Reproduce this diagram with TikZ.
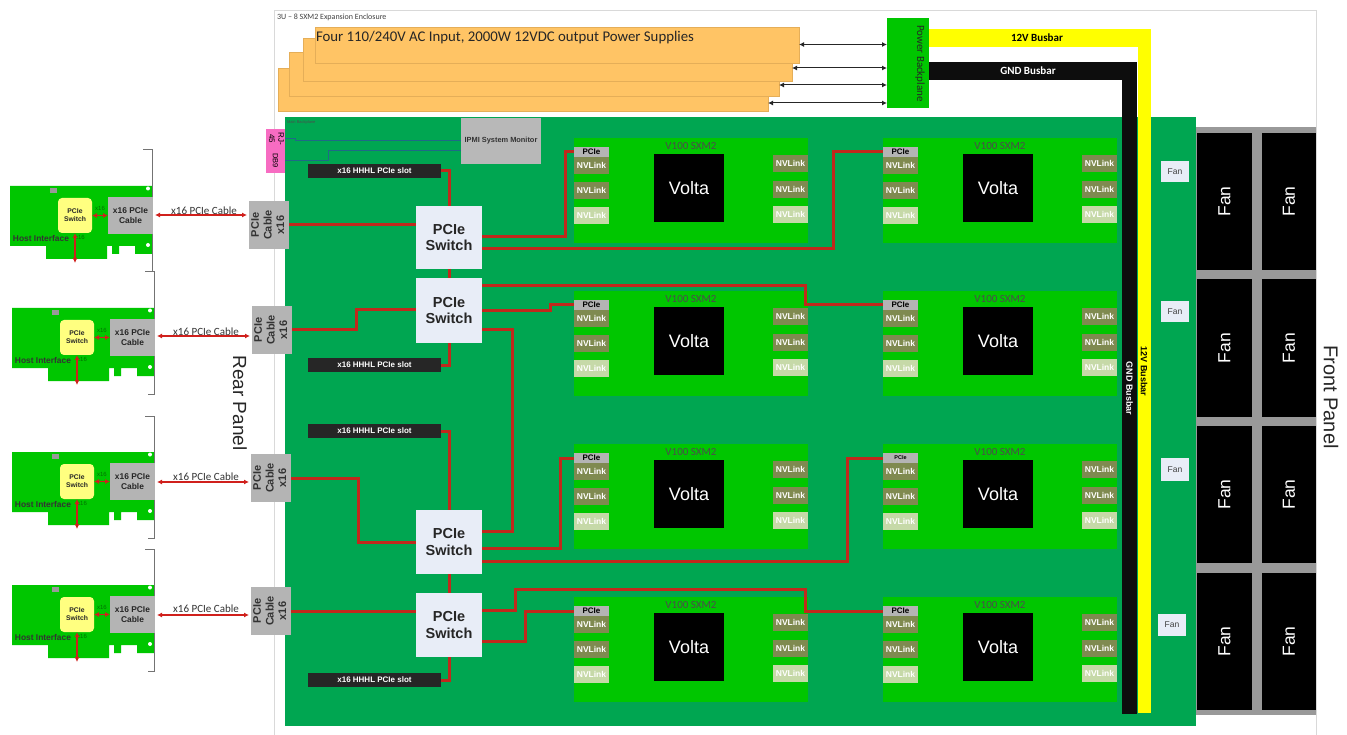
\documentclass[tikz,border=0pt]{standalone}
\usepackage{fontspec}
\usepackage{graphicx}
\setmainfont{Liberation Sans}
\newfontfamily\cb{Carlito}
\usetikzlibrary{arrows.meta,calc}
\definecolor{mainG}{HTML}{00A651}
\definecolor{brightG}{HTML}{00C600}
\definecolor{psuO}{HTML}{FFC465}
\definecolor{psuE}{HTML}{E5AE58}
\definecolor{wireR}{HTML}{C0291C}
\definecolor{arrR}{HTML}{D0201C}
\definecolor{swB}{HTML}{E8EDF7}
\definecolor{olive}{HTML}{7F8A50}
\definecolor{pale}{HTML}{C6D9A8}
\definecolor{slotK}{HTML}{262626}
\definecolor{cableG}{HTML}{B4B4B4}
\definecolor{pinkB}{HTML}{F76CC2}
\definecolor{tealB}{HTML}{1F6A86}
\definecolor{busY}{HTML}{FFFF00}
\definecolor{cardY}{HTML}{FFFF80}
\newcommand\fz[1]{\fontsize{#1}{\dimexpr #1pt*115/100\relax}\selectfont}
\newcommand\rot[2]{\rotatebox{#1}{\begin{tabular}{@{}c@{}}#2\end{tabular}}}
\newcommand\rect[7]{%
  \pgfmathsetmacro\rw{abs((#5)-(#3))}\pgfmathsetmacro\rh{abs((#6)-(#4))}%
  \pgfmathsetmacro\rcx{((#3)+(#5))/2}\pgfmathsetmacro\rcy{((#4)+(#6))/2}%
  \node[base,#2,minimum width=\rw pt,minimum height=\rh pt] (#1) at (\rcx,\rcy) {#7};}
\tikzset{
  x=1pt,y=-1pt,
  base/.style={inner sep=0pt,outer sep=0pt,align=center,text=black},
  psu/.style={fill=psuO,draw=psuE,line width=.5pt},
  board/.style={fill=brightG},
  volta/.style={fill=black,text=white,font=\fz{18}},
  nvdark/.style={fill=olive,text=white,font=\bfseries\fz{8.5}},
  nvpale/.style={fill=pale,text=white,font=\bfseries\fz{8.5}},
  pcieport/.style={fill=cableG},
  switchbox/.style={fill=swB,text=black!85,font=\bfseries\fz{14.5}},
  slotbox/.style={fill=slotK,text=white,font=\bfseries\fz{8}},
  cablebox/.style={fill=cableG,text=black!80,font=\bfseries\fz{11}},
  fanbig/.style={fill=black,text=white,font=\fz{17.5}},
  fansmall/.style={fill=swB,text=black!75,font=\fz{8.5}},
  wire/.style={draw=wireR,line width=3pt,line join=miter},
  redarr/.style={draw=arrR,line width=1.6pt,{Latex[length=5pt,width=5pt]}-{Latex[length=5pt,width=5pt]}},
  blkarr/.style={draw=black!85,line width=1pt,{Latex[length=5pt,width=5pt]}-{Latex[length=5pt,width=5pt]}},
  bluewire/.style={draw=tealB,line width=1pt},
  frame/.style={draw=black!15,line width=.8pt},
  cardgreen/.style={fill=brightG,draw=none},
  bracket/.style={draw=black!55,line width=1pt},
  lab/.style={inner sep=0pt,outer sep=0pt,align=center},
}
\begin{document}
\begin{tikzpicture}
\useasboundingbox (0,0) rectangle (1347,735);
\fill[white] (0,0) rectangle (1347,735);
% enclosure frame
\draw[frame] (274,735) -- (274,10) -- (1316,10) -- (1316,735);
\node[lab,font=\cb\fz{8},text=black!75,anchor=west] (enc) at (277,17.5) {3U – 8 SXM2 Expansion Enclosure};
% power supplies
\rect{psu4}{psu}{278}{68}{768}{111}{}
\rect{psu3}{psu}{289}{52}{779}{96}{}
\rect{psu2}{psu}{303}{38}{792}{81}{}
\rect{psu1}{psu}{315}{27}{799}{63}{}
\node[lab,font=\cb\fz{14.8},text=black!85,anchor=west] (psut) at (316,38) {Four 110/240V AC Input, 2000W 12VDC output Power Supplies};
% main board
\rect{main}{fill=mainG}{285}{117}{1196}{726}{}
\node[lab,font=\fz{4},text=black!70,anchor=west] (mbt) at (287,122) {Main Backplane};
% busbars
\rect{bpl}{fill=brightG}{887}{18}{929}{108}{}
\rect{v12}{fill=busY}{929}{29}{1138}{47}{\cb\bfseries\fz{11}\hspace*{7pt}12V Busbar}
\rect{v12b}{fill=busY}{1138}{29}{1151}{713}{}
\rect{gnd}{fill=black!95}{929}{62}{1137}{80}{\cb\bfseries\fz{11}\textcolor{white}{GND Busbar\hspace*{10pt}}}
\rect{gndb}{fill=black!95}{1122}{62}{1137}{714}{}
\node[lab,text=black!85,font=\cb\fz{11}] (bplt) at (920,63.5) {\rotatebox{-90}{Power Backplane}};
\node[lab,text=black,font=\bfseries\fz{9}] (v12t) at (1144,371.5) {\rotatebox{-90}{12V Busbar}};
\node[lab,text=white,font=\bfseries\fz{9}] (gndt) at (1129.5,388.5) {\rotatebox{-90}{GND Busbar}};
% PSU to backplane
\foreach \p/\yy in {psu1/44.5,psu2/68,psu3/85,psu4/103}
  \draw[blkarr] (\p.east |- 0,\yy) -- (bpl.west |- 0,\yy);
% fans
\rect{fanback}{fill=black!40}{1196}{127}{1316}{715}{}
\foreach \r/\ya/\yb in {1/133/270,2/279/417,3/426/563,4/573/710}{
  \rect{fa\r}{fanbig}{1197}{\ya}{1252}{\yb}{\rotatebox{90}{Fan}}
  \rect{fb\r}{fanbig}{1262}{\ya}{1316}{\yb}{\rotatebox{90}{Fan}}
}
\rect{sf1}{fansmall}{1161}{161}{1189}{182}{Fan}
\rect{sf2}{fansmall}{1161}{301}{1189}{322}{Fan}
\rect{sf3}{fansmall}{1161}{458}{1189}{481}{Fan}
\rect{sf4}{fansmall}{1158}{614}{1186}{636}{Fan}
% SXM boards
\foreach \r/\dy in {1/0,2/153,3/306,4/459}{
 \foreach \c/\dx in {1/0,2/309}{
  \ifnum\r\c=32 \def\pf{5.5}\else\def\pf{8}\fi
  \rect{b\r\c}{board}{574+\dx}{138+\dy}{808+\dx}{243+\dy}{}
  \node[lab,font=\cb\fz{11},text=black!70] (t\r\c) at (691+\dx,146+\dy) {V100 SXM2};
  \rect{v\r\c}{volta}{654+\dx}{154+\dy}{724+\dx}{222+\dy}{Volta}
  \rect{p\r\c}{pcieport,font=\bfseries\fz{\pf}}{574+\dx}{147+\dy}{609+\dx}{157+\dy}{PCIe}
  \rect{nl1\r\c}{nvdark}{574+\dx}{157+\dy}{609+\dx}{174+\dy}{NVLink}
  \rect{nl2\r\c}{nvdark}{574+\dx}{182+\dy}{609+\dx}{199+\dy}{NVLink}
  \rect{nl3\r\c}{nvpale}{574+\dx}{207+\dy}{609+\dx}{224+\dy}{NVLink}
  \rect{nr1\r\c}{nvdark}{773+\dx}{155+\dy}{808+\dx}{172+\dy}{NVLink}
  \rect{nr2\r\c}{nvdark}{773+\dx}{181+\dy}{808+\dx}{198+\dy}{NVLink}
  \rect{nr3\r\c}{nvpale}{773+\dx}{206+\dy}{808+\dx}{223+\dy}{NVLink}
 }
}
% pcie switches, slots, cables
\rect{sw1}{switchbox}{416}{206}{482}{269}{PCIe\\Switch}
\rect{sw2}{switchbox}{416}{278}{482}{343}{PCIe\\Switch}
\rect{sw3}{switchbox}{416}{510}{482}{574}{PCIe\\Switch}
\rect{sw4}{switchbox}{416}{593}{482}{657}{PCIe\\Switch}
\rect{sl1}{slotbox}{308}{164}{441}{178}{x16 HHHL PCIe slot}
\rect{sl2}{slotbox}{308}{358}{441}{372}{x16 HHHL PCIe slot}
\rect{sl3}{slotbox}{308}{424}{441}{438}{x16 HHHL PCIe slot}
\rect{sl4}{slotbox}{308}{673}{441}{687}{x16 HHHL PCIe slot}
\rect{cab1}{cablebox}{249}{201}{289}{249}{\rot{90}{PCIe\\Cable\\x16}}
\rect{cab2}{cablebox}{252}{306}{292}{354}{\rot{90}{PCIe\\Cable\\x16}}
\rect{cab3}{cablebox}{251}{454}{291}{502}{\rot{90}{PCIe\\Cable\\x16}}
\rect{cab4}{cablebox}{251}{587}{291}{635}{\rot{90}{PCIe\\Cable\\x16}}
% IPMI and connectors
\rect{ipmi}{fill=black!28,font=\bfseries\fz{7.4},text=black!80}{461}{118}{541}{164}{IPMI System Monitor}
\rect{rj}{fill=pinkB,font=\fz{8}}{266}{129}{285}{148}{\rot{-90}{RJ-\\45}}
\rect{db}{fill=pinkB,font=\fz{7.5}}{266}{148}{285}{173}{\rotatebox{-90}{DB9}}
\draw[bluewire] (rj.east) -- (295,138.5) -- (295,141) -- (ipmi.west |- 0,141);
\draw[bluewire] (db.east) -- (328,160.5) -- (328,151) -- (ipmi.west |- 0,151);
% wires
\draw[wire] (cab1.east) -- (sw1.west |- cab1.east);
\draw[wire] (sl1.east) -| (sw1.north);
\draw[wire] (sw1.east |- 0,237) -- (565,237) |- (p11.west);
\draw[wire] (sw1.east |- 0,249) -- (833,249) |- (p12.west);
\draw[wire] (sw1.south) -- (sw2.north);
\draw[wire] (cab2.east) -- (cab2.east -| 356,0) -- (356,310) -- (sw2.west |- 0,310);
\draw[wire] (sw2.east |- 0,286) -- (805,286) |- (p22.west);
\draw[wire] (sw2.east |- 0,311) -- (550,311) |- (p21.west);
\draw[wire] (sw2.east |- 0,330) -- (512,330) -- (512,531) -- (sw3.east |- 0,531);
\draw[wire] (sl2.east) -| (sw2.south);
\draw[wire] (cab3.east) -- (cab3.east -| 358,0) -- (358,542) -- (sw3.west |- 0,542);
\draw[wire] (sl3.east) -| (sw3.north);
\draw[wire] (sw3.east |- 0,548) -- (560,548) |- (p31.west);
\draw[wire] (sw3.east |- 0,561) -- (847,561) |- (p32.west);
\draw[wire] (sw3.south) -- (sw4.north);
\draw[wire] (cab4.east) -- (sw4.west |- cab4.east);
\draw[wire] (sw4.east |- 0,610) -- (515,610) -- (515,589) -- (805,589) |- (p42.west);
\draw[wire] (sw4.east |- 0,641) -- (525,641) |- (p41.west);
\draw[wire] (sl4.east) -| (sw4.south);
% host cards
\foreach \n/\dx/\dy in {1/0/0,2/2/122,3/2/266,4/2/399}{
\begin{scope}[shift={(\dx,\dy)}]
 \fill[cardgreen] (10,186) -- (152,186) -- (152,254) -- (135,254) -- (135,246) -- (119,246) -- (119,254) -- (112,254) -- (112,246) -- (107,246) -- (107,259) -- (46,259) -- (46,246) -- (10,246) -- cycle;
 \fill[black!40] (50,188) rectangle (57,193);
 \fill[white] (148,188.5) circle (2pt) (148,245) circle (2pt);
 \draw[bracket] (143,150) -- (152,150) -- (152,272);
 \draw[bracket] (146,272) -- (153,272);
 \rect{hs\n}{fill=cardY,rounded corners=4pt,font=\bfseries\fz{6.8},text=black!85}{58}{198}{92}{233}{PCIe\\Switch}
 \rect{hc\n}{fill=cableG,font=\bfseries\fz{8.4},text=black!85}{108}{197}{153}{234}{x16 PCIe\\Cable}
 \draw[redarr] (hs\n.east) -- (hc\n.west);
 \node[lab,font=\fz{6},text=green!45!black] (x\n) at (100,208) {x16};
 \node[lab,font=\bfseries\fz{8.4},text=black!80] (hi\n) at (41,238) {Host Interface};
 \node[lab,font=\fz{6},text=green!45!black] (y\n) at (80,237) {x16};
 \coordinate (hd\n) at (75,263);
 \draw[redarr] (hs\n.south) -- (hd\n);
\end{scope}
}
\foreach \n/\yy/\ly/\lx in {1/215/211/204,2/336/332/206,3/482/477/206,4/615/609/206}{
 \draw[redarr] ([xshift=2pt]hc\n.east |- 0,\yy) -- ([xshift=-2pt]cab\n.west |- 0,\yy);
 \node[lab,font=\cb\fz{11},text=black!80] (cl\n) at (\lx,\ly) {x16 PCIe Cable};
}
% panel labels
\node[lab,font=\fz{19},text=black!85] (rp) at (240,403) {\rotatebox{-90}{Rear Panel}};
\node[lab,font=\fz{20},text=black!85] (fp) at (1331,397) {\rotatebox{-90}{Front Panel}};
\end{tikzpicture}
\end{document}
